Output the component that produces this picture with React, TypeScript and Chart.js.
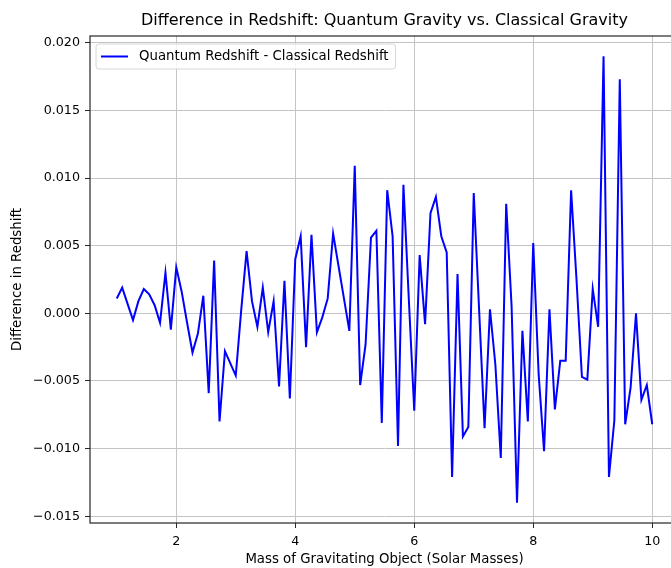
import React, { useEffect, useRef } from 'react';
import { Chart, registerables } from 'chart.js';

Chart.register(...registerables);

const TITLE = 'Difference in Redshift: Quantum Gravity vs. Classical Gravity';
const X_LABEL = 'Mass of Gravitating Object (Solar Masses)';
const Y_LABEL = 'Difference in Redshift';
const SERIES_LABEL = 'Quantum Redshift - Classical Redshift';

const X_TICKS = [2, 4, 6, 8, 10];
const Y_TICKS = [-0.015, -0.01, -0.005, 0, 0.005, 0.01, 0.015, 0.02];

const MASS_START = 1;
const MASS_END = 10;

const REDSHIFT_DIFF = [
  0.0011, 0.0019, 0.0007, -0.0005, 0.0009, 0.0018, 0.0014, 0.0006, -0.0007, 0.0030,
  -0.0012, 0.0034, 0.0016, -0.0007, -0.0029, -0.0015, 0.0013, -0.0059, 0.0039, -0.0080,
  -0.0028, -0.0037, -0.0046, 0.0002, 0.0046, 0.0009, -0.0010, 0.0019, -0.0014, 0.0009,
  -0.0054, 0.0024, -0.0063, 0.0040, 0.0057, -0.0025, 0.0058, -0.0014, -0.0003, 0.0011,
  0.0059, 0.0035, 0.0011, -0.0013, 0.0109, -0.0053, -0.0023, 0.0056, 0.0061, -0.0081,
  0.0091, 0.0057, -0.0098, 0.0095, 0.0010, -0.0072, 0.0043, -0.0008, 0.0074, 0.0086,
  0.0057, 0.0045, -0.0121, 0.0029, -0.0091, -0.0084, 0.0089, 0.0002, -0.0085, 0.0003,
  -0.0038, -0.0107, 0.0081, 0.0005, -0.0140, -0.0013, -0.0080, 0.0052, -0.0045, -0.0102,
  0.0003, -0.0071, -0.0035, -0.0035, 0.0091, 0.0025, -0.0047, -0.0049, 0.0018, -0.0010,
  0.0190, -0.0121, -0.0079, 0.0173, -0.0082, -0.0055, 0.0000, -0.0064, -0.0053, -0.0082,
];

const MASS = REDSHIFT_DIFF.map(
  (_, i) => MASS_START + (i * (MASS_END - MASS_START)) / (REDSHIFT_DIFF.length - 1)
);

const FONT = '"DejaVu Sans", sans-serif';
const LINE_COLOR = '#0000ff';
const GRID_COLOR = '#c4c4c4';

const fmtY = (v: number) => {
  const s = Math.abs(v).toFixed(3);
  return v < -1e-9 ? '\u2212' + s : s;
};

const overlayPlugin = {
  id: 'overlay',
  afterDraw(chart: any) {
    const { ctx, chartArea } = chart;
    const { left, top, right, bottom } = chartArea;
    ctx.save();
    // frame
    ctx.strokeStyle = '#262626';
    ctx.lineWidth = 1.2;
    ctx.strokeRect(left, top, right - left, bottom - top);
    // title
    ctx.fillStyle = '#000';
    ctx.font = `16px ${FONT}`;
    ctx.textAlign = 'center';
    ctx.textBaseline = 'middle';
    ctx.fillText(TITLE, (left + right) / 2, 21);
    // legend
    ctx.font = `13.3px ${FONT}`;
    const tw = ctx.measureText(SERIES_LABEL).width;
    const bx = left + 6;
    const by = top + 8;
    const bw = 43 + tw + 7;
    const bh = 25;
    const r = 3;
    ctx.beginPath();
    ctx.moveTo(bx + r, by);
    ctx.lineTo(bx + bw - r, by);
    ctx.quadraticCurveTo(bx + bw, by, bx + bw, by + r);
    ctx.lineTo(bx + bw, by + bh - r);
    ctx.quadraticCurveTo(bx + bw, by + bh, bx + bw - r, by + bh);
    ctx.lineTo(bx + r, by + bh);
    ctx.quadraticCurveTo(bx, by + bh, bx, by + bh - r);
    ctx.lineTo(bx, by + r);
    ctx.quadraticCurveTo(bx, by, bx + r, by);
    ctx.closePath();
    ctx.fillStyle = 'rgba(255,255,255,0.85)';
    ctx.fill();
    ctx.strokeStyle = '#d6d6d6';
    ctx.lineWidth = 1;
    ctx.stroke();
    ctx.strokeStyle = LINE_COLOR;
    ctx.lineWidth = 2;
    ctx.beginPath();
    ctx.moveTo(bx + 5, by + bh / 2);
    ctx.lineTo(bx + 32, by + bh / 2);
    ctx.stroke();
    ctx.fillStyle = '#000';
    ctx.textAlign = 'left';
    ctx.fillText(SERIES_LABEL, bx + 43, by + bh / 2 + 0.5);
    ctx.restore();
  },
};

export default function App() {
  const canvasRef = useRef<HTMLCanvasElement | null>(null);

  useEffect(() => {
    const canvas = canvasRef.current;
    if (!canvas) return;
    const chart = new Chart(canvas, {
      type: 'line',
      data: {
        datasets: [
          {
            label: SERIES_LABEL,
            data: MASS.map((x, i) => ({ x, y: REDSHIFT_DIFF[i] })),
            borderColor: LINE_COLOR,
            backgroundColor: LINE_COLOR,
            borderWidth: 2,
            pointRadius: 0,
            tension: 0,
            fill: false,
          },
        ],
      },
      options: {
        responsive: false,
        animation: false,
        layout: { padding: { top: 36, right: 89, left: 0, bottom: 0 } },
        plugins: {
          legend: { display: false },
          title: { display: false },
          tooltip: { enabled: false },
        },
        scales: {
          x: {
            type: 'linear',
            min: 0.55,
            max: 10.45,
            afterBuildTicks: (s: any) => {
              s.ticks = X_TICKS.map((v) => ({ value: v }));
            },
            afterFit: (s: any) => {
              s.height = 45;
            },
            ticks: {
              callback: (v: any) => String(v),
              font: { family: FONT, size: 12.7 },
              color: '#000',
              padding: 6,
              maxRotation: 0,
            },
            grid: {
              color: GRID_COLOR,
              lineWidth: 1,
              tickColor: '#262626',
              tickLength: 5,
            },
            border: { display: false },
            title: {
              display: true,
              text: X_LABEL,
              font: { family: FONT, size: 13.3 },
              color: '#000',
              padding: { top: 0, bottom: 0 },
            },
          },
          y: {
            type: 'linear',
            min: -0.0155,
            max: 0.0205,
            afterBuildTicks: (s: any) => {
              s.ticks = Y_TICKS.map((v) => ({ value: v }));
            },
            afterFit: (s: any) => {
              s.width = 90;
            },
            ticks: {
              callback: (v: any) => fmtY(Number(v)),
              font: { family: FONT, size: 12.7 },
              color: '#000',
              padding: 5,
            },
            grid: {
              color: GRID_COLOR,
              lineWidth: 1,
              tickColor: '#262626',
              tickLength: 5,
            },
            border: { display: false },
            title: {
              display: true,
              text: Y_LABEL,
              font: { family: FONT, size: 13.3 },
              color: '#000',
              padding: { top: 10, bottom: 0 },
            },
          },
        },
      },
      plugins: [overlayPlugin],
    });
    return () => chart.destroy();
  }, []);

  return (
    <div
      style={{
        position: 'absolute',
        left: 0,
        top: 0,
        width: 671,
        height: 568,
        overflow: 'hidden',
        background: '#fff',
      }}
    >
      <canvas ref={canvasRef} width={768} height={568} style={{ display: 'block' }} />
    </div>
  );
}
